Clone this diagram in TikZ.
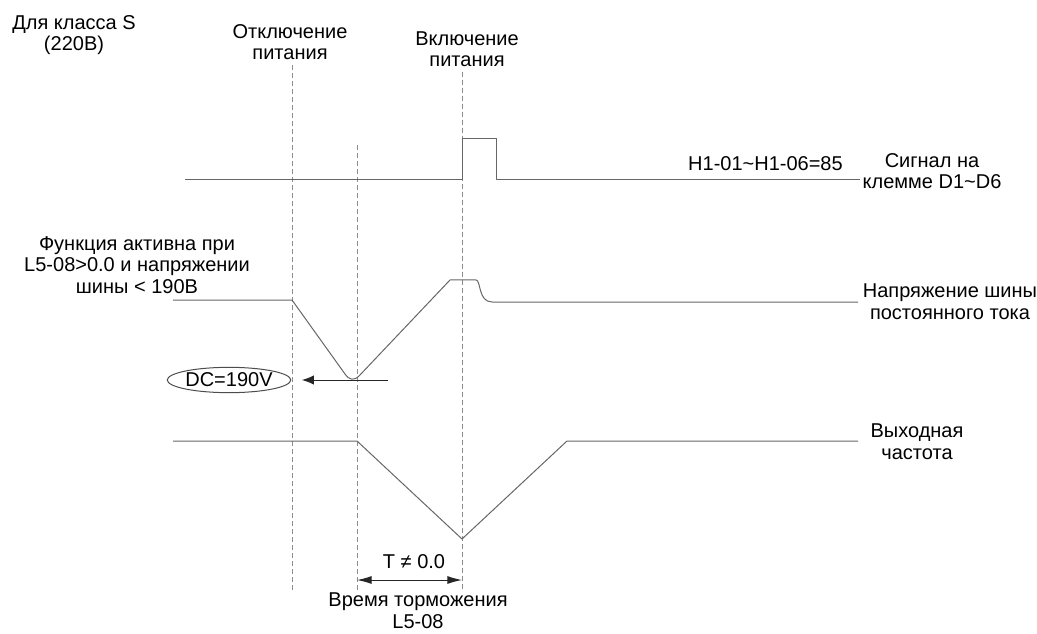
\documentclass[tikz,border=0pt]{standalone}
\usepackage{fontspec}
\setmainfont{Liberation Sans}
\usetikzlibrary{arrows.meta,positioning,shapes.geometric}

\begin{document}
\begin{tikzpicture}[x=0.75pt,y=-0.75pt,
  wave/.style={draw=black!60,line width=0.75pt,line join=round},
  guide/.style={draw=black!45,line width=0.6pt,dash pattern=on 3.75pt off 2.25pt},
  txt/.style={align=center,inner sep=0pt,anchor=base,
    font=\fontsize{15}{16}\selectfont},
  tip/.style={-{Latex[length=9pt,width=7pt]},draw=black!85,line width=0.75pt},
  dim/.style={{Latex[length=11pt,width=6pt]}-{Latex[length=11pt,width=6pt]},
    draw=black!85,line width=0.75pt}]
  \useasboundingbox (0,0) rectangle (1037,634);

  % time marks
  \def\xoff{292}
  \def\xbrk{357}
  \def\xon{462}
  \def\ybot{590}

  % levels
  \def\ysig{180}
  \def\ybus{300}
  \def\yfrq{441}

  \foreach \nm/\xx/\yy in {off/\xoff/65,brk/\xbrk/145,on/\xon/72} {
    \draw[guide] (\xx,\yy) coordinate (\nm top) -- (\xx,\ybot) coordinate (\nm bot);
  }

  % headings (anchored at the baseline of the last line)
  \node[txt] (cls) at (74,51) {Для класса S\\(220В)};
  \node[txt] (offl) at (290,60) {Отключение\\питания};
  \node[txt] (onl) at (467,67) {Включение\\питания};

  % terminal signal
  \draw[wave] (185,\ysig) -- (\xon,\ysig) -- (\xon,139) -- (496,139)
    -- (496,\ysig) -- (860,\ysig);
  \node[txt,anchor=base east] (hpar) at (843,171) {H1-01\textasciitilde H1-06=85};
  \node[txt] (sigl) at (932,189) {Сигнал на\\клемме D1\textasciitilde D6};

  % bus voltage
  \node[txt] (cond) at (137,293) {Функция активна при\\L5-08>0.0 и напряжении\\шины < 190В};
  \draw[wave] (173,\ybus) -- (\xoff,\ybus) -- (345,374)
    .. controls (349,380) and (354,381) .. (359,376) -- (450,280) -- (476,280)
    .. controls (481,280) and (478,302) .. (492,302) -- (858,302);
  \node[txt] (busl) at (950,319) {Напряжение шины\\постоянного тока};

  \node[ellipse,draw=black!70,line width=0.75pt,inner sep=0pt,
    minimum width=86pt,minimum height=19pt,
    font=\fontsize{15}{16}\selectfont] (dc) at (229,380) {DC=190V};
  \coordinate (dcfrom) at (388,380);
  \draw[tip,shorten >=8pt] (dcfrom) -- (dc.east);

  % output frequency
  \draw[wave] (173,\yfrq) -- (\xbrk,\yfrq) -- (\xon,539) -- (567,\yfrq) -- (858,\yfrq);
  \node[txt] (frql) at (917,459) {Выходная\\частота};

  % braking time
  \coordinate (brk dim) at (\xbrk,580);
  \coordinate (on dim) at (\xon,580);
  \draw[dim] (brk dim) -- (on dim);
  \node[txt] (tval) at (414,568) {T ≠ 0.0};
  \node[txt] (tdec) at (418,628) {Время торможения\\L5-08};

\end{tikzpicture}
\end{document}
